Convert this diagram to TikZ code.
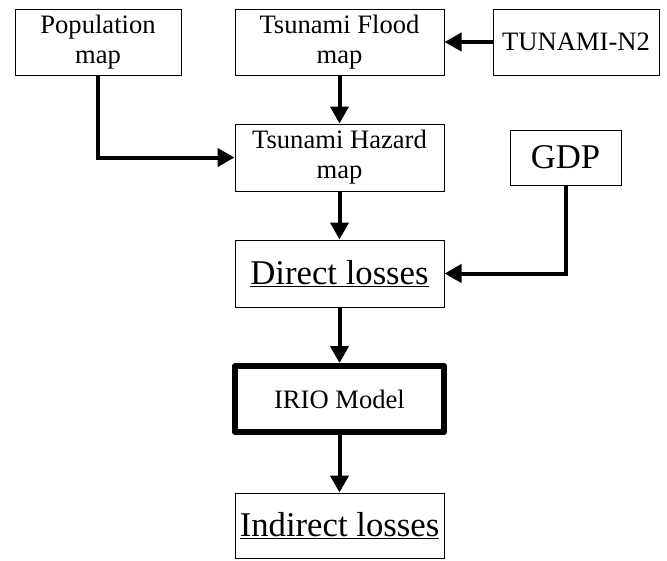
\documentclass[tikz,border=0pt]{standalone}
\usepackage{fontspec}
\setmainfont{Liberation Serif}
\usetikzlibrary{arrows.meta}
\begin{document}
\begin{tikzpicture}[x=1pt,y=-1pt,
  box/.style={draw=black,line width=1pt,rectangle,inner sep=0pt,align=center,
    font=\fontsize{26.6}{30}\selectfont},
  bigbox/.style={box,font=\fontsize{34.7}{40}\selectfont},
  thickbox/.style={box,line width=6pt,line join=round},
  arr/.style={line width=4pt,-{Triangle[length=17pt,width=18pt]}}]
\useasboundingbox (0,0) rectangle (667,560);
\node[box,minimum width=166pt,minimum height=66pt] (pop) at (98,42) {Population\\map};
\node[box,minimum width=209pt,minimum height=66pt] (flood) at (339.5,42) {Tsunami Flood\\map};
\node[box,minimum width=166pt,minimum height=66pt] (tun) at (576,42) {TUNAMI-N2};
\node[box,minimum width=209pt,minimum height=67pt] (haz) at (339.5,157.5) {Tsunami Hazard\\map};
\node[bigbox,minimum width=111pt,minimum height=55pt] (gdp) at (565.5,157.5) {GDP};
\node[bigbox,minimum width=209pt,minimum height=67pt] (direct) at (339.5,273.5) {\underline{Direct losses}};
\node[thickbox,minimum width=209pt,minimum height=66pt] (irio) at (339.5,399) {IRIO Model};
\node[bigbox,minimum width=209pt,minimum height=65pt] (indirect) at (339.5,525.5) {\underline{Indirect losses}};
\draw[arr] (tun.west) -- (flood.east);
\draw[arr] (flood.south) -- (haz.north);
\draw[arr] (pop.south) |- (haz.west);
\draw[arr] (haz.south) -- (direct.north);
\draw[arr] (gdp.south) |- (direct.east);
\draw[arr] (direct.south) -- (irio.north);
\draw[arr] (irio.south) -- (indirect.north);
\end{tikzpicture}
\end{document}
